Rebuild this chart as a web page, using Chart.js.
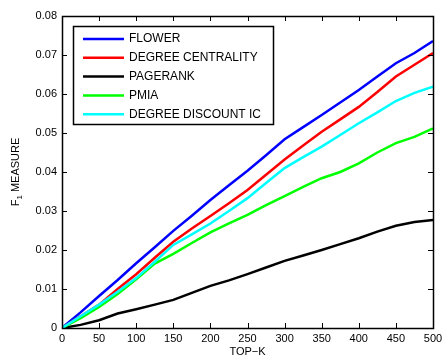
<!DOCTYPE html>
<html lang="en">
<head>
    <meta charset="UTF-8">
    <title>F1 measure vs top-k</title>
    <style>
        body {
            margin: 0;
            background-color: #fff;
        }
        #wrap {
            width: 443px;
            height: 360px;
        }
    </style>
    <script src="https://cdn.jsdelivr.net/npm/chart.js"></script>
</head>
<body>
    <div id="wrap">
        <canvas id="f1Chart" width="443" height="360"></canvas>
    </div>

    <script>
        var topK = [0, 25, 50, 75, 100, 125, 150, 175, 200, 225, 250, 275, 300, 325, 350, 375, 400, 425, 450, 475, 500];

        var flower = [0, 0.0040, 0.0082, 0.0123, 0.0166, 0.0207, 0.0249, 0.0288, 0.0328, 0.0366, 0.0403, 0.0443, 0.0484, 0.0515, 0.0546, 0.0578, 0.0610, 0.0645, 0.0679, 0.0705, 0.0736];
        var degreeCentrality = [0, 0.0030, 0.0060, 0.0100, 0.0138, 0.0180, 0.0221, 0.0255, 0.0287, 0.0320, 0.0354, 0.0393, 0.0432, 0.0468, 0.0503, 0.0535, 0.0567, 0.0605, 0.0645, 0.0675, 0.0705];
        var pagerank = [0, 0.0008, 0.0020, 0.0037, 0.0048, 0.0060, 0.0072, 0.0090, 0.0108, 0.0122, 0.0138, 0.0155, 0.0172, 0.0186, 0.0200, 0.0215, 0.0230, 0.0247, 0.0262, 0.0272, 0.0277];
        var pmia = [0, 0.0025, 0.0054, 0.0087, 0.0125, 0.0165, 0.0190, 0.0218, 0.0245, 0.0268, 0.0290, 0.0315, 0.0338, 0.0362, 0.0384, 0.0400, 0.0422, 0.0450, 0.0474, 0.0490, 0.0512];
        var degreeDiscount = [0, 0.0030, 0.0060, 0.0093, 0.0128, 0.0170, 0.0213, 0.0240, 0.0268, 0.0300, 0.0333, 0.0372, 0.0410, 0.0438, 0.0465, 0.0495, 0.0525, 0.0553, 0.0582, 0.0603, 0.0619];

        var seriesNames = ['FLOWER', 'DEGREE CENTRALITY', 'PAGERANK', 'PMIA', 'DEGREE DISCOUNT IC'];
        var seriesColors = ['#0000ff', '#ff0000', '#000000', '#00ff00', '#00ffff'];
        var seriesValues = [flower, degreeCentrality, pagerank, pmia, degreeDiscount];

        var xTicks = [0, 50, 100, 150, 200, 250, 300, 350, 400, 450, 500];
        var yTicks = [0, 0.01, 0.02, 0.03, 0.04, 0.05, 0.06, 0.07, 0.08];

        var FONT = 'Arial, "Liberation Sans", sans-serif';

        function toPoints(vals) {
            return topK.map(function (k, i) { return { x: k, y: vals[i] }; });
        }

        var datasets = seriesValues.map(function (vals, i) {
            return {
                label: seriesNames[i],
                data: toPoints(vals),
                borderColor: seriesColors[i],
                backgroundColor: seriesColors[i],
                borderWidth: 2.5,
                pointRadius: 0,
                tension: 0,
                fill: false,
                // later series sit on top, like the plotting order
                order: seriesValues.length - i
            };
        });

        // box, inward ticks on all four sides, axis titles and the legend
        var frame = {
            id: 'frame',
            afterDatasetsDraw: function (chart) {
                var ctx = chart.ctx;
                var a = chart.chartArea;
                var xs = chart.scales.x, ys = chart.scales.y;
                var len = 5;
                ctx.save();
                ctx.strokeStyle = '#000';
                ctx.lineWidth = 1;
                ctx.beginPath();
                xTicks.forEach(function (t) {
                    var px = Math.round(xs.getPixelForValue(t)) + 0.5;
                    ctx.moveTo(px, a.bottom); ctx.lineTo(px, a.bottom - len);
                    ctx.moveTo(px, a.top); ctx.lineTo(px, a.top + len);
                });
                yTicks.forEach(function (t) {
                    var py = Math.round(ys.getPixelForValue(t)) + 0.5;
                    ctx.moveTo(a.left, py); ctx.lineTo(a.left + len, py);
                    ctx.moveTo(a.right, py); ctx.lineTo(a.right - len, py);
                });
                ctx.stroke();
                ctx.lineWidth = 1.5;
                ctx.strokeRect(Math.round(a.left) + 0.5, Math.round(a.top) + 0.5,
                    Math.round(a.right - a.left), Math.round(a.bottom - a.top));

                // axis titles
                ctx.fillStyle = '#000';
                ctx.font = '11px ' + FONT;
                ctx.textAlign = 'center';
                ctx.textBaseline = 'middle';
                ctx.fillText('TOP\u2212K', (a.left + a.right) / 2, 352);

                ctx.save();
                ctx.translate(16, (a.top + a.bottom) / 2);
                ctx.rotate(-Math.PI / 2);
                var wF = ctx.measureText('F').width;
                ctx.font = '8px ' + FONT;
                var wSub = ctx.measureText('1').width;
                ctx.font = '11px ' + FONT;
                var wRest = ctx.measureText(' MEASURE').width;
                var x0 = -(wF + wSub + wRest) / 2;
                ctx.textAlign = 'left';
                ctx.fillText('F', x0, 0);
                ctx.font = '8px ' + FONT;
                ctx.fillText('1', x0 + wF, 4);
                ctx.font = '11px ' + FONT;
                ctx.fillText(' MEASURE', x0 + wF + wSub, 0);
                ctx.restore();

                // legend box
                var lx = 73, ly = 26, lw = 200, lh = 98;
                ctx.fillStyle = '#fff';
                ctx.fillRect(lx, ly, lw, lh);
                ctx.lineWidth = 1.5;
                ctx.strokeStyle = '#000';
                ctx.strokeRect(lx + 0.5, ly + 0.5, lw, lh);
                ctx.font = '12px ' + FONT;
                ctx.textAlign = 'left';
                ctx.textBaseline = 'middle';
                seriesNames.forEach(function (name, i) {
                    var y = ly + 13 + i * 18.8;
                    ctx.strokeStyle = seriesColors[i];
                    ctx.lineWidth = 2.5;
                    ctx.beginPath();
                    ctx.moveTo(lx + 10, y);
                    ctx.lineTo(lx + 51, y);
                    ctx.stroke();
                    ctx.fillStyle = '#000';
                    ctx.fillText(name, lx + 56, y);
                });
                ctx.restore();
            }
        };

        new Chart(document.getElementById('f1Chart').getContext('2d'), {
            type: 'line',
            data: { datasets: datasets },
            options: {
                responsive: false,
                animation: false,
                layout: { padding: { top: 16, right: 10, left: 0, bottom: 0 } },
                plugins: {
                    legend: { display: false },
                    tooltip: { enabled: false }
                },
                scales: {
                    x: {
                        type: 'linear',
                        min: 0,
                        max: 500,
                        afterFit: function (scale) {
                            scale.height = 32;
                            scale.paddingLeft = 0;
                            scale.paddingRight = 0;
                        },
                        afterBuildTicks: function (scale) {
                            scale.ticks = xTicks.map(function (v) { return { value: v }; });
                        },
                        grid: { display: false, drawTicks: false },
                        border: { display: false },
                        ticks: {
                            color: '#000',
                            padding: 4,
                            maxRotation: 0,
                            font: { family: FONT, size: 11 }
                        }
                    },
                    y: {
                        min: 0,
                        max: 0.08,
                        afterFit: function (scale) {
                            scale.width = 62;
                            scale.paddingTop = 0;
                            scale.paddingBottom = 0;
                        },
                        afterBuildTicks: function (scale) {
                            scale.ticks = yTicks.map(function (v) { return { value: v }; });
                        },
                        grid: { display: false, drawTicks: false },
                        border: { display: false },
                        ticks: {
                            color: '#000',
                            padding: 5,
                            font: { family: FONT, size: 11 },
                            callback: function (v) { return v === 0 ? '0' : v.toFixed(2); }
                        }
                    }
                }
            },
            plugins: [frame]
        });
    </script>
</body>
</html>
